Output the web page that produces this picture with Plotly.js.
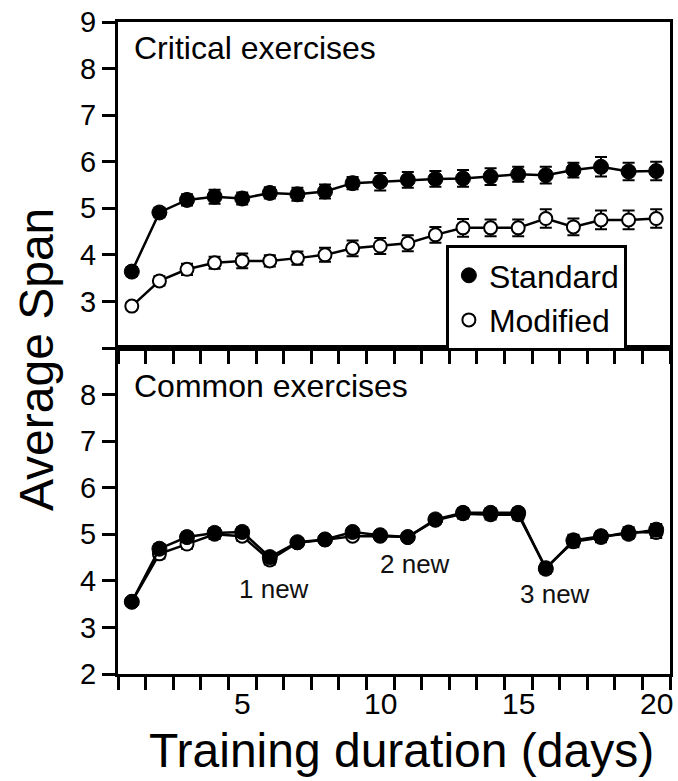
<!DOCTYPE html>
<html>
<head>
<meta charset="utf-8">
<script src="https://cdn.plot.ly/plotly-3.0.1.min.js"></script>
<style>html,body{margin:0;padding:0;background:#fff;}#chart{width:678px;height:781px;}</style>
</head>
<body>
<div id="chart"></div>
<script>
// ---- data ----
const days = [1,2,3,4,5,6,7,8,9,10,11,12,13,14,15,16,17,18,19,20];

const critStd    = [3.64,4.91,5.18,5.25,5.21,5.33,5.30,5.36,5.54,5.57,5.61,5.63,5.64,5.68,5.73,5.71,5.82,5.89,5.79,5.80];
const critStdErr = [0.10,0.10,0.12,0.15,0.13,0.12,0.14,0.15,0.13,0.19,0.17,0.17,0.18,0.18,0.16,0.18,0.16,0.21,0.19,0.20];
const critMod    = [2.90,3.44,3.69,3.83,3.87,3.87,3.93,4.00,4.14,4.19,4.25,4.43,4.58,4.58,4.58,4.78,4.60,4.75,4.75,4.78];
const critModErr = [0.08,0.10,0.12,0.13,0.16,0.12,0.14,0.15,0.17,0.17,0.17,0.17,0.19,0.18,0.18,0.20,0.18,0.20,0.20,0.20];

const commStd    = [3.55,4.69,4.94,5.03,5.05,4.51,4.83,4.89,5.05,4.98,4.94,5.32,5.46,5.46,5.46,4.26,4.87,4.96,5.01,5.10];
const commStdErr = [0.08,0.10,0.10,0.10,0.10,0.10,0.08,0.08,0.08,0.08,0.08,0.08,0.10,0.10,0.10,0.10,0.12,0.10,0.10,0.12];
const commMod    = [3.55,4.58,4.79,5.00,4.96,4.45,4.82,4.88,4.96,4.96,4.94,5.30,5.44,5.42,5.42,4.28,4.84,4.93,5.05,5.04];
const commModErr = [0.08,0.10,0.10,0.10,0.10,0.10,0.08,0.08,0.08,0.08,0.08,0.08,0.10,0.10,0.10,0.10,0.12,0.10,0.10,0.12];

const seriesNames = ['Standard','Modified'];
const panelTitles = ['Critical exercises','Common exercises'];
// tick marks sit at the day boundaries; labels are centred on days 5, 10, 15, 20
const xTickMarks = [0.5,1.5,2.5,3.5,4.5,5.5,6.5,7.5,8.5,9.5,10.5,11.5,12.5,13.5,14.5,15.5,16.5,17.5,18.5,19.5,20.5];
const xLabelVals = [5,10,15,20];
const xLabelText = ['5','10','15','20'];
const yTickVals = [2,3,4,5,6,7,8,9];
const yTickTextTop = ['','3','4','5','6','7','8','9'];
const yTickTextBottom = ['2','3','4','5','6','7','8',''];
const newLabels = ['1 new','2 new','3 new'];
const newLabelX = [6.15,11.26,16.33];
const newLabelY = [3.82,4.36,3.71];
const xTitle = 'Training duration (days)';
const yTitle = 'Average Span';

// ---- styles ----
const FONT = 'Liberation Sans, Arial, Helvetica, sans-serif';
const LINE_W = 2.5;
const X_RANGE = [0.5, 20.5];
const Y_RANGE = [2, 9];
const PANEL_H = (781 - 22 - 107) / 2;
const PX_PER_UNIT = PANEL_H / (Y_RANGE[1] - Y_RANGE[0]);
const TICK_LEN = 13;

function lineTrace(y, xa, ya) {
  return {x: days, y: y, xaxis: xa, yaxis: ya, type: 'scatter', mode: 'lines',
          line: {color: 'black', width: LINE_W}, showlegend: false, hoverinfo: 'skip'};
}
function markerTrace(y, err, xa, ya, filled, name, showleg, rank) {
  return {x: days, y: y, xaxis: xa, yaxis: ya, type: 'scatter', mode: 'markers',
          name: name, showlegend: showleg, legendrank: rank,
          error_y: {type: 'data', array: err, visible: true, color: 'black', thickness: 2, width: 6},
          marker: filled
            ? {symbol: 'circle', size: 15, color: 'black', line: {color: 'black', width: 1}}
            : {symbol: 'circle', size: 13, color: 'white', line: {color: 'black', width: 2}}};
}
// day-boundary tick marks hanging below a panel's bottom edge
function tickMarkTrace(xa, ya) {
  const yc = Y_RANGE[0] - (TICK_LEN / 2) / PX_PER_UNIT;
  return {x: xTickMarks, y: xTickMarks.map(() => yc), xaxis: xa, yaxis: ya,
          type: 'scatter', mode: 'markers', cliponaxis: false,
          marker: {symbol: 'line-ns', size: TICK_LEN, color: 'black', line: {color: 'black', width: 3}},
          showlegend: false, hoverinfo: 'skip'};
}

const traces = [
  // top panel (critical)
  lineTrace(critMod, 'x2', 'y2'),
  markerTrace(critMod, critModErr, 'x2', 'y2', false, seriesNames[1], true, 2),
  lineTrace(critStd, 'x2', 'y2'),
  markerTrace(critStd, critStdErr, 'x2', 'y2', true, seriesNames[0], true, 1),
  tickMarkTrace('x2', 'y2'),
  // bottom panel (common)
  lineTrace(commMod, 'x', 'y'),
  markerTrace(commMod, commModErr, 'x', 'y', false, seriesNames[1], false, 2),
  lineTrace(commStd, 'x', 'y'),
  markerTrace(commStd, commStdErr, 'x', 'y', true, seriesNames[0], false, 1),
  tickMarkTrace('x', 'y')
];

const tickMarkAxis = {showline: true, linewidth: 3, linecolor: 'black', mirror: true,
                      showgrid: false, zeroline: false, range: X_RANGE,
                      tickmode: 'array', tickvals: xTickMarks, showticklabels: false,
                      ticks: 'outside', ticklen: TICK_LEN, tickwidth: 3, tickcolor: 'black'};
const yAxisCommon = {showline: true, linewidth: 3, linecolor: 'black', mirror: true,
                     showgrid: false, zeroline: false, range: Y_RANGE,
                     tickmode: 'array', tickvals: yTickVals,
                     ticks: 'outside', ticklen: TICK_LEN, tickwidth: 3, tickcolor: 'black',
                     tickfont: {family: FONT, size: 29, color: 'black'}};

const annotations = [
  {text: yTitle, textangle: -90, xref: 'paper', yref: 'paper', x: -0.1486, y: 0.483,
   xanchor: 'center', yanchor: 'middle', showarrow: false, font: {family: FONT, size: 48, color: 'black'}},
  {text: xTitle, xref: 'paper', yref: 'paper', x: 0.514, y: -0.1173,
   xanchor: 'center', yanchor: 'middle', showarrow: false, font: {family: FONT, size: 48, color: 'black'}},
  {text: panelTitles[0], xref: 'paper', yref: 'paper', x: 0.025, y: 0.960,
   xanchor: 'left', yanchor: 'middle', showarrow: false, font: {family: FONT, size: 32, color: 'black'}},
  {text: panelTitles[1], xref: 'paper', yref: 'paper', x: 0.025, y: 0.4417,
   xanchor: 'left', yanchor: 'middle', showarrow: false, font: {family: FONT, size: 32, color: 'black'}}
];
// x tick labels, centred on their day below the boundary tick marks
xLabelVals.forEach((v, i) => annotations.push({
  text: xLabelText[i], xref: 'x', yref: 'paper', x: v, y: -0.0445,
  xanchor: 'center', yanchor: 'middle', showarrow: false,
  font: {family: FONT, size: 30, color: 'black'}
}));
newLabels.forEach((t, i) => annotations.push({
  text: t, xref: 'x', yref: 'y', x: newLabelX[i], y: newLabelY[i],
  xanchor: 'center', yanchor: 'middle', showarrow: false,
  font: {family: FONT, size: 26, color: '#111'}
}));

const layout = {
  width: 678, height: 781,
  margin: {l: 118, r: 8, t: 22, b: 107},
  paper_bgcolor: 'white', plot_bgcolor: 'rgba(0,0,0,0)',
  font: {family: FONT, color: 'black'},
  showlegend: true,
  legend: {x: 0.594, y: 0.658, xanchor: 'left', yanchor: 'top',
           bgcolor: 'white', bordercolor: 'black', borderwidth: 3,
           font: {family: FONT, size: 32, color: 'black'}, tracegroupgap: 0},
  xaxis: Object.assign({}, tickMarkAxis, {domain: [0, 1], anchor: 'y'}),
  xaxis2: Object.assign({}, tickMarkAxis, {domain: [0, 1], anchor: 'y2'}),
  yaxis: Object.assign({}, yAxisCommon, {domain: [0, 0.5], anchor: 'x', ticktext: yTickTextBottom}),
  yaxis2: Object.assign({}, yAxisCommon, {domain: [0.5, 1], anchor: 'x2', ticktext: yTickTextTop}),
  annotations: annotations
};

Plotly.newPlot('chart', traces, layout, {displayModeBar: false, staticPlot: true});
</script>
</body>
</html>
